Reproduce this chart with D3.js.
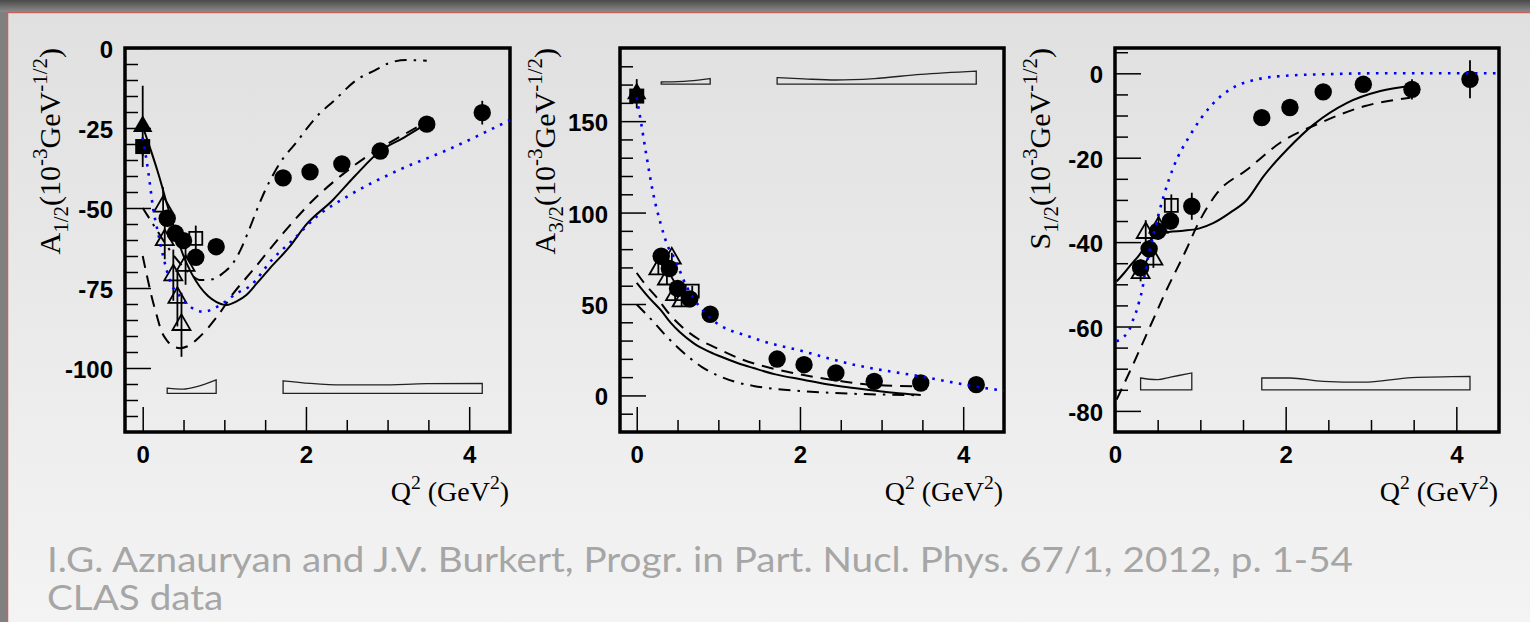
<!DOCTYPE html>
<html>
<head>
<meta charset="utf-8">
<script src="https://cdn.jsdelivr.net/npm/d3@7"></script>
<style>
  body { margin: 0; overflow: hidden; background: #7f7f7f; }
</style>
</head>
<body>
<svg id="chart" width="1530" height="622"></svg>
<script>
/* CONSTANTS AND DATA */
const width = 1530, height = 622;

// tick labels
const xTicks = [0, 2, 4];
const a12Ticks = [-100, -75, -50, -25, 0];
const a32Ticks = [0, 50, 100, 150];
const s12Ticks = [-80, -60, -40, -20, 0];

// CLAS points (filled circles)
const q2Clas = [0.3, 0.4, 0.5, 0.65, 0.9, 1.72, 2.05, 2.44, 2.91, 3.48, 4.16];
const a12Clas = [-53.2, -57.9, -60.2, -65.4, -62.1, -40.6, -38.7, -36.2, -32.2, -23.8, -20.2];
const a12ClasErr = [2, 2, 2, 2, 2, 1.5, 1.5, 1.5, 1.5, 2, 3.7];
const a32Clas = [76.1, 69.4, 58.5, 52.8, 44.4, 19.9, 16.8, 12.3, 7.7, 6.8, 5.9];
const a32ClasErr = [2, 2, 2, 2, 2, 1.5, 1.5, 1.5, 1.5, 1.5, 1.5];
const s12Clas = [-46.1, -41.6, -37.4, -35, -31.5, -10.5, -8.1, -4.4, -2.6, -3.8, -1.4];
const s12ClasErr = [2, 2, 2, 2, 3.2, 1.5, 1.5, 1.5, 1.5, 2.4, 4.5];

// photon point, filled triangle and filled square
const a12PhotonTri = [-24.5], a12PhotonTriErr = [12.7];
const a12PhotonSq = [-30.8], a12PhotonSqErr = [3];
const a32PhotonTri = [165], a32PhotonTriErr = [8];
const a32PhotonSq = [163.7], a32PhotonSqErr = [2];

// other data, open triangles and open squares
const a12OpenTriQ = [0.25, 0.27, 0.375, 0.425, 0.475, 0.525];
const a12OpenTri = [-49.5, -60, -71, -78, -86.5, -68];
const a12OpenTriErr = [6, 6, 8, 9, 10, 6];
const a12OpenSqQ = [0.65], a12OpenSq = [-59.5], a12OpenSqErr = [4];

const a32OpenTriQ = [0.265, 0.37, 0.43, 0.47, 0.55];
const a32OpenTri = [69, 63.5, 75, 55, 51.5];
const a32OpenTriErr = [3, 3, 3, 3, 3];
const a32OpenSqQ = [0.68], a32OpenSq = [57], a32OpenSqErr = [3];

const s12OpenTriQ = [0.3, 0.45, 0.36, 0.51];
const s12OpenTri = [-47.3, -44.1, -37.8, -36.5];
const s12OpenTriErr = [2, 2, 3, 3];
const s12OpenSqQ = [0.66], s12OpenSq = [-31.3], s12OpenSqErr = [2.6];

// systematic bands (height above the band base)
const bandLowQ = [0.3, 0.4, 0.5, 0.65, 0.9];
const bandHighQ = [1.72, 2.05, 2.44, 2.91, 3.48, 4.16];
const a12BandBase = -107.9;
const a12BandLow = [1.6, 1.4, 1.3, 2.0, 4.2];
const a12BandHigh = [3.9, 3.1, 2.6, 2.6, 3.0, 3.1];
const a32BandBase = 170.2;
const a32BandLow = [1.2, 1.3, 1.4, 1.8, 3.1];
const a32BandHigh = [3.6, 2.9, 2.3, 3.1, 5.4, 7.2];
const s12BandBase = -75;
const s12BandLow = [2.8, 2.5, 2.4, 3.0, 4.0];
const s12BandHigh = [2.8, 2.8, 2.0, 1.8, 2.9, 3.2];

// model curves, A1/2
const a12SolidQ = [0, 0.1, 0.2, 0.3, 0.4, 0.5, 0.6, 0.7, 0.8, 0.9, 1.03, 1.15, 1.27, 1.4, 1.56, 1.8, 2.0, 2.33, 2.6, 2.91, 3.2, 3.47];
const a12Solid = [-24.5, -32, -40, -49, -57.5, -65, -70.5, -74.6, -77.5, -79.3, -80.3, -79.2, -77.2, -73.5, -68.8, -62.1, -55.3, -47.5, -40, -32.2, -28, -23.8];
const a12DashQ = [0, 0.05, 0.11, 0.17, 0.23, 0.3, 0.38, 0.46, 0.55, 0.7, 0.91, 1.11, 1.35, 1.72, 2.09, 2.45, 2.74, 3.1, 3.56];
const a12Dash = [-65, -71, -77.7, -83.4, -88.5, -91.5, -93.3, -93.8, -93.2, -90.2, -84, -76.7, -69.4, -57.9, -47.5, -39.5, -34, -28.5, -22];
const a12DashDotQ = [0, 0.1, 0.2, 0.3, 0.4, 0.5, 0.6, 0.7, 0.85, 1.0, 1.1, 1.2, 1.3, 1.4, 1.5, 1.6, 1.72, 1.89, 2.0, 2.17, 2.33, 2.62, 2.85, 3.01, 3.23, 3.48];
const a12DashDot = [-50, -54, -58, -62, -65.5, -68.5, -71, -72.5, -72.3, -70, -67.5, -63, -57, -50.5, -44.5, -39.5, -34.5, -29.3, -25.5, -20.4, -16.8, -10, -6.9, -4.8, -3.75, -4];
const a12DotQ = [0, 0.07, 0.13, 0.19, 0.25, 0.33, 0.46, 0.58, 0.74, 0.95, 1.15, 1.31, 1.6, 1.84, 2.13, 2.5, 3.15, 3.72, 4.5];
const a12Dot = [-28, -39, -50.5, -58, -65, -72.5, -77.7, -80.8, -82.4, -80.3, -76.7, -74.5, -65.7, -60, -52.7, -46.5, -38, -32, -22.5];

// model curves, A3/2
const a32SolidQ = [0, 0.15, 0.29, 0.42, 0.53, 0.7, 0.86, 1.02, 1.25, 1.43, 1.7, 2.04, 2.35, 2.66, 3.0, 3.25, 3.48];
const a32Solid = [61.6, 53.5, 46.9, 39.5, 34.5, 28.5, 24.5, 21.4, 17.5, 15, 11.5, 8.6, 6, 4.1, 2.2, 1, 0.2];
const a32DashQ = [0, 0.1, 0.25, 0.4, 0.53, 0.75, 1.02, 1.3, 1.64, 1.95, 2.25, 2.55, 2.86, 3.2, 3.48];
const a32Dash = [67, 61, 53.3, 44.5, 38.5, 31, 25, 19.5, 15, 12, 9.5, 7.5, 5.9, 5.2, 4.9];
const a32DashDotQ = [0, 0.2, 0.35, 0.49, 0.65, 0.8, 1.0, 1.2, 1.43, 1.7, 2.04, 2.35, 2.66, 3.0, 3.48];
const a32DashDot = [49.7, 40.5, 33, 26.8, 20.5, 15.5, 10.8, 7.5, 5.2, 3.5, 2.3, 1.5, 0.9, 0.5, 0.1];
const a32DotQ = [0, 0.05, 0.12, 0.2, 0.29, 0.39, 0.45, 0.61, 0.9, 1.43, 2.04, 2.66, 3.48, 4.42, 4.5];
const a32Dot = [163, 150, 130.9, 110.8, 94.4, 80.7, 76.1, 59.7, 42.4, 31.4, 24.1, 16.8, 10.4, 3.1, 2.7];

// model curves, S1/2
const s12SolidQ = [0.02, 0.1, 0.18, 0.26, 0.34, 0.42, 0.5, 0.63, 0.8, 0.98, 1.15, 1.35, 1.55, 1.74, 2.02, 2.33, 2.72, 3.11, 3.46];
const s12Solid = [-49.3, -47.5, -45.5, -43.7, -41.5, -39.5, -38.3, -37.6, -37.3, -36.8, -35.5, -33, -29.9, -24.4, -18, -12.1, -7, -4.2, -3];
const s12DashQ = [0.02, 0.2, 0.4, 0.6, 0.83, 0.96, 1.2, 1.55, 1.94, 2.41, 2.92, 3.46];
const s12Dash = [-77.3, -69.5, -60.5, -51.5, -42, -36.2, -28.3, -22.8, -16.4, -11.7, -7.8, -5.8];
const s12DotQ = [0.017, 0.1, 0.17, 0.21, 0.25, 0.29, 0.32, 0.345, 0.37, 0.4, 0.455, 0.57, 0.69, 0.885, 1.12, 1.35, 1.67, 2.06, 2.5, 3.0, 3.5, 4.0, 4.5];
const s12Dot = [-63.5, -62.5, -60.7, -58.5, -56.4, -53.6, -51.2, -48.1, -45.3, -42.5, -37.8, -29.1, -22, -14.5, -7.8, -3.8, -1.4, -0.5, -0.2, 0, 0, 0, 0];

const captionLines = [
  "I.G. Aznauryan and J.V. Burkert, Progr. in Part. Nucl. Phys. 67/1, 2012, p. 1-54",
  "CLAS data"
];

/* HELPERS */
const zip = (q, v, e) => q.map((d, i) => ({ q: d, v: v[i], e: e ? e[i] : 0 }));
const labelFont = "'Liberation Sans', Arial, Helvetica, sans-serif";
const titleFont = "'Liberation Serif', 'Times New Roman', Times, serif";

const svg = d3.select("#chart");

// page background (slide)
const defs = svg.append("defs");
const topGrad = defs.append("linearGradient").attr("id", "topbar").attr("x1", 0).attr("x2", 0).attr("y1", 0).attr("y2", 1);
topGrad.append("stop").attr("offset", "0%").attr("stop-color", "#4a4a4a");
topGrad.append("stop").attr("offset", "100%").attr("stop-color", "#8c8c8c");
const slideGrad = defs.append("linearGradient").attr("id", "slide").attr("x1", 0).attr("x2", 0).attr("y1", 0).attr("y2", 1);
slideGrad.append("stop").attr("offset", "0%").attr("stop-color", "#e0e0e0");
slideGrad.append("stop").attr("offset", "100%").attr("stop-color", "#f4f4f4");

svg.append("rect").attr("width", width).attr("height", height).attr("fill", "#808080");
svg.append("rect").attr("width", width).attr("height", 12).attr("fill", "url(#topbar)");
svg.append("rect").attr("x", 7.5).attr("y", 12.5).attr("width", width).attr("height", height)
  .attr("fill", "url(#slide)").attr("stroke", "#c8625a").attr("stroke-width", 1.5);

// write text made of normal / sub / sup pieces
function richText(sel, parts, size) {
  let shift = 0;
  parts.forEach(p => {
    const target = p.sub ? 0.25 * size : p.sup ? -0.42 * size : 0;
    sel.append("tspan")
      .attr("dy", target - shift)
      .attr("font-size", p.sub || p.sup ? size * 0.7 : size)
      .text(p.t);
    shift = target;
  });
}

/* DRAW ONE PANEL */
function drawPanel(p) {
  const g = svg.append("g");
  const x = d3.scaleLinear().domain(p.xDomain).range([p.left, p.right]);
  const y = d3.scaleLinear().domain(p.yDomain).range([p.bottom, p.top]);

  // systematic bands
  p.bands.forEach(b => {
    g.append("path")
      .datum(zip(b.q, b.h))
      .attr("d", d3.area()
        .x(d => x(d.q))
        .y0(y(p.bandBase))
        .y1(d => y(p.bandBase + d.v))
        .curve(d3.curveMonotoneX))
      .attr("fill", "none")
      .attr("stroke", "#222")
      .attr("stroke-width", 1.3);
  });

  // axes: minor + major ticks inside the frame
  const yMinor = d3.axisLeft(y).tickValues(p.yMinor).tickSize(-13).tickFormat("");
  const yMajor = d3.axisLeft(y).tickValues(p.yTicks).tickSize(-26).tickPadding(12).tickFormat(d => String(d));
  const xMinor = d3.axisBottom(x).tickValues(p.xMinor).tickSize(-12).tickFormat("");
  const xMajor = d3.axisBottom(x).tickValues(xTicks).tickSize(-25).tickFormat(d => String(d));

  [yMinor, yMajor].forEach(ax => {
    g.append("g").attr("class", "axis").attr("transform", `translate(${p.left},0)`).call(ax);
  });
  [xMinor, xMajor].forEach(ax => {
    g.append("g").attr("class", "axis").attr("transform", `translate(0,${p.bottom})`).call(ax);
  });
  g.selectAll(".axis .domain").remove();
  g.selectAll(".axis line").attr("stroke", "#000").attr("stroke-width", 1.5);
  g.selectAll(".axis text")
    .attr("font-family", labelFont)
    .attr("font-weight", "bold")
    .attr("font-size", 24)
    .attr("fill", "#000");
  g.selectAll(".axis").attr("font-size", null).attr("font-family", null);
  // vertical label placement
  g.selectAll(".axis text").each(function () {
    const t = d3.select(this);
    if (t.attr("x") !== null && +t.attr("x") < 0) t.attr("dy", 9.5);
  });
  g.selectAll(".axis text").filter(function () { return d3.select(this).attr("y") !== null && +d3.select(this).attr("y") !== 0; })
    .attr("y", 31).attr("dy", 0);

  // frame
  g.append("rect")
    .attr("x", p.left).attr("y", p.top)
    .attr("width", p.right - p.left).attr("height", p.bottom - p.top)
    .attr("fill", "none").attr("stroke", "#000").attr("stroke-width", 3.5);

  // error bars
  const errs = [].concat(...p.markers.map(m => m.pts));
  g.append("g").selectAll("line").data(errs.filter(d => d.e > 0)).join("line")
    .attr("x1", d => x(d.q)).attr("x2", d => x(d.q))
    .attr("y1", d => y(d.v - d.e)).attr("y2", d => y(d.v + d.e))
    .attr("stroke", "#000").attr("stroke-width", 1.8);

  // markers
  p.markers.forEach(m => {
    const sel = g.append("g").selectAll("path").data(m.pts).join("path")
      .attr("transform", d => `translate(${x(d.q)},${y(d.v)})`)
      .attr("d", d3.symbol().type(m.shape).size(m.size));
    if (m.open) sel.attr("fill", "none").attr("stroke", "#000").attr("stroke-width", 1.8);
    else sel.attr("fill", "#000");
  });

  // model curves
  p.curves.forEach(c => {
    g.append("path")
      .datum(zip(c.q, c.v))
      .attr("d", d3.line().x(d => x(d.q)).y(d => y(d.v)).curve(d3.curveMonotoneX))
      .attr("fill", "none")
      .attr("stroke", c.color || "#000")
      .attr("stroke-width", c.w || 2)
      .attr("stroke-dasharray", c.dash || null);
  });

  // y title (rotated)
  const yt = g.append("text")
    .attr("transform", `translate(${p.left - 65},${p.top}) rotate(-90)`)
    .attr("text-anchor", "end")
    .attr("font-family", titleFont)
    .attr("fill", "#000");
  richText(yt, p.yTitle, 30);

  // x title
  const xt = g.append("text")
    .attr("x", p.right - 1).attr("y", 501)
    .attr("text-anchor", "end")
    .attr("font-family", titleFont)
    .attr("fill", "#000");
  richText(xt, [{ t: "Q" }, { t: "2", sup: true }, { t: "\u00a0(GeV" }, { t: "2", sup: true }, { t: ")" }], 28);
}

const dashStyle = "12 8", dashDotStyle = "12 7 2.5 7", dotStyle = "2.6 6.4";
const markerSet = (clas, clasErr, tri, triErr, sq, sqErr, oTriQ, oTri, oTriErr, oSqQ, oSq, oSqErr) => {
  const list = [];
  if (oSqQ) list.push({ shape: d3.symbolSquare, size: 170, open: true, pts: zip(oSqQ, oSq, oSqErr) });
  if (oTriQ) list.push({ shape: d3.symbolTriangle, size: 140, open: true, pts: zip(oTriQ, oTri, oTriErr) });
  if (sq) list.push({ shape: d3.symbolSquare, size: 225, pts: zip([0], sq, sqErr) });
  if (tri) list.push({ shape: d3.symbolTriangle, size: 165, pts: zip([0], tri, triErr) });
  list.push({ shape: d3.symbolCircle, size: Math.PI * 8.7 * 8.7, pts: zip(q2Clas, clas, clasErr) });
  return list;
};

const panels = [
  {
    left: 125, right: 510, top: 48, bottom: 432,
    xDomain: [-0.217, 4.5], yDomain: [-120, 0],
    yTicks: a12Ticks, yMinor: d3.range(-115, 0, 5).filter(v => v % 25 !== 0),
    xMinor: [0.5, 1, 1.5, 2.5, 3, 3.5],
    bandBase: a12BandBase,
    bands: [{ q: bandLowQ, h: a12BandLow }, { q: bandHighQ, h: a12BandHigh }],
    markers: markerSet(a12Clas, a12ClasErr, a12PhotonTri, a12PhotonTriErr, a12PhotonSq, a12PhotonSqErr,
      a12OpenTriQ, a12OpenTri, a12OpenTriErr, a12OpenSqQ, a12OpenSq, a12OpenSqErr),
    curves: [
      { q: a12DashDotQ, v: a12DashDot, dash: dashDotStyle },
      { q: a12DashQ, v: a12Dash, dash: dashStyle },
      { q: a12SolidQ, v: a12Solid },
      { q: a12DotQ, v: a12Dot, dash: dotStyle, color: "#0000ff", w: 2.6 }
    ],
    yTitle: [{ t: "A" }, { t: "1/2", sub: true }, { t: "(10" }, { t: "-3", sup: true }, { t: "GeV" }, { t: "-1/2", sup: true }, { t: ")" }]
  },
  {
    left: 620, right: 1004, top: 48, bottom: 432,
    xDomain: [-0.205, 4.5], yDomain: [-20, 190],
    yTicks: a32Ticks, yMinor: d3.range(-10, 190, 10).filter(v => v % 50 !== 0),
    xMinor: [0.5, 1, 1.5, 2.5, 3, 3.5],
    bandBase: a32BandBase,
    bands: [{ q: bandLowQ, h: a32BandLow }, { q: bandHighQ, h: a32BandHigh }],
    markers: markerSet(a32Clas, a32ClasErr, a32PhotonTri, a32PhotonTriErr, a32PhotonSq, a32PhotonSqErr,
      a32OpenTriQ, a32OpenTri, a32OpenTriErr, a32OpenSqQ, a32OpenSq, a32OpenSqErr),
    curves: [
      { q: a32DashDotQ, v: a32DashDot, dash: dashDotStyle },
      { q: a32DashQ, v: a32Dash, dash: dashStyle },
      { q: a32SolidQ, v: a32Solid },
      { q: a32DotQ, v: a32Dot, dash: dotStyle, color: "#0000ff", w: 2.6 }
    ],
    yTitle: [{ t: "A" }, { t: "3/2", sub: true }, { t: "(10" }, { t: "-3", sup: true }, { t: "GeV" }, { t: "-1/2", sup: true }, { t: ")" }]
  },
  {
    left: 1115, right: 1499, top: 48, bottom: 432,
    xDomain: [0, 4.5], yDomain: [-85, 6],
    yTicks: s12Ticks, yMinor: d3.range(-80, 6, 5).filter(v => v % 20 !== 0),
    xMinor: [0.5, 1, 1.5, 2.5, 3, 3.5],
    bandBase: s12BandBase,
    bands: [{ q: bandLowQ, h: s12BandLow }, { q: bandHighQ, h: s12BandHigh }],
    markers: markerSet(s12Clas, s12ClasErr, null, null, null, null,
      s12OpenTriQ, s12OpenTri, s12OpenTriErr, s12OpenSqQ, s12OpenSq, s12OpenSqErr),
    curves: [
      { q: s12DashQ, v: s12Dash, dash: dashStyle },
      { q: s12SolidQ, v: s12Solid },
      { q: s12DotQ, v: s12Dot, dash: dotStyle, color: "#0000ff", w: 2.6 }
    ],
    yTitle: [{ t: "S" }, { t: "1/2", sub: true }, { t: "(10" }, { t: "-3", sup: true }, { t: "GeV" }, { t: "-1/2", sup: true }, { t: ")" }]
  }
];

panels.forEach(drawPanel);

// caption
const cap = svg.append("g")
  .attr("font-family", "'Comic Sans MS', Lato, 'Open Sans', sans-serif")
  .attr("font-size", 34)
  .attr("fill", "#a6a6a6");
const capText = cap.selectAll("text").data(captionLines).join("text")
  .attr("x", 47)
  .attr("y", (d, i) => 572 + i * 38)
  .text(d => d);
const natural = capText.nodes()[0].getComputedTextLength();
const squeeze = 1306 / natural;
capText.each(function () {
  d3.select(this).attr("textLength", this.getComputedTextLength() * squeeze).attr("lengthAdjust", "spacingAndGlyphs");
});
</script>
</body>
</html>
